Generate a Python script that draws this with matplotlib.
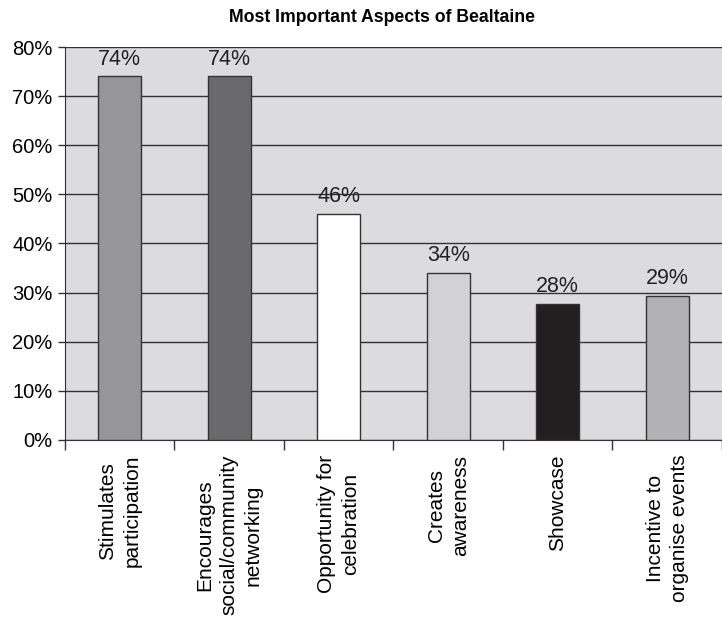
import matplotlib
matplotlib.use('Agg')
import numpy as np
from matplotlib import pyplot as plt

# Datos
categories = ['Stimulates\nparticipation', 'Encourages\nsocial/community\nnetworking',
              'Opportunity for\ncelebration', 'Creates\nawareness', 'Showcase',
              'Incentive to\norganise events']
values = [74, 74, 46, 34, 27.7, 29.4]
value_labels = ['74%', '74%', '46%', '34%', '28%', '29%']
bar_colors = ['#96969a', '#6a6a6c', '#ffffff', '#d2d2d4', '#231f20', '#b2b2b4']
y_ticks = [0, 10, 20, 30, 40, 50, 60, 70, 80]

plt.rcParams['font.family'] = ['Liberation Sans', 'DejaVu Sans']

fig = plt.figure(figsize=(7.22, 6.21), dpi=100)
ax = fig.add_axes([0.09, 0.2915, 0.91, 0.6328])
ax.set_facecolor('#dcdcde')

x = np.arange(len(categories))
ax.bar(x, values, width=0.39, color=bar_colors, edgecolor='#333333', linewidth=1.0, zorder=3)
for xi, v, lab in zip(x, values, value_labels):
    ax.text(xi, v + 2.4, lab, ha='center', va='baseline', fontsize=15.5, color='#222222')

ax.set_ylim(0, 80)
ax.set_xlim(-0.5, len(categories) - 0.5)
ax.set_yticks(y_ticks)
ax.set_yticklabels([f'{t}%' for t in y_ticks], fontsize=14.5)
ax.yaxis.grid(True, color='#333333', linewidth=1.0, zorder=1)
ax.set_axisbelow(True)

# ticks entre categorías
ax.set_xticks(np.arange(len(categories) + 1) - 0.5)
ax.set_xticklabels([])
ax.tick_params(axis='x', length=7, width=1, color='#333333')
ax.tick_params(axis='y', length=5, width=1, color='#333333', pad=4)
for xi, c in zip(x, categories):
    ax.text(xi, -3.0, c, rotation=90, ha='center', va='top', multialignment='center',
            fontsize=15, linespacing=1.35, transform=ax.transData)

for s in ['top', 'right']:
    ax.spines[s].set_visible(False)
ax.spines['left'].set_color('#333333')
ax.spines['bottom'].set_color('#333333')

fig.text(0.529, 0.972, 'Most Important Aspects of Bealtaine', ha='center', va='center',
         fontsize=12.7, fontweight='bold')

fig.savefig('out.png', dpi=100)
